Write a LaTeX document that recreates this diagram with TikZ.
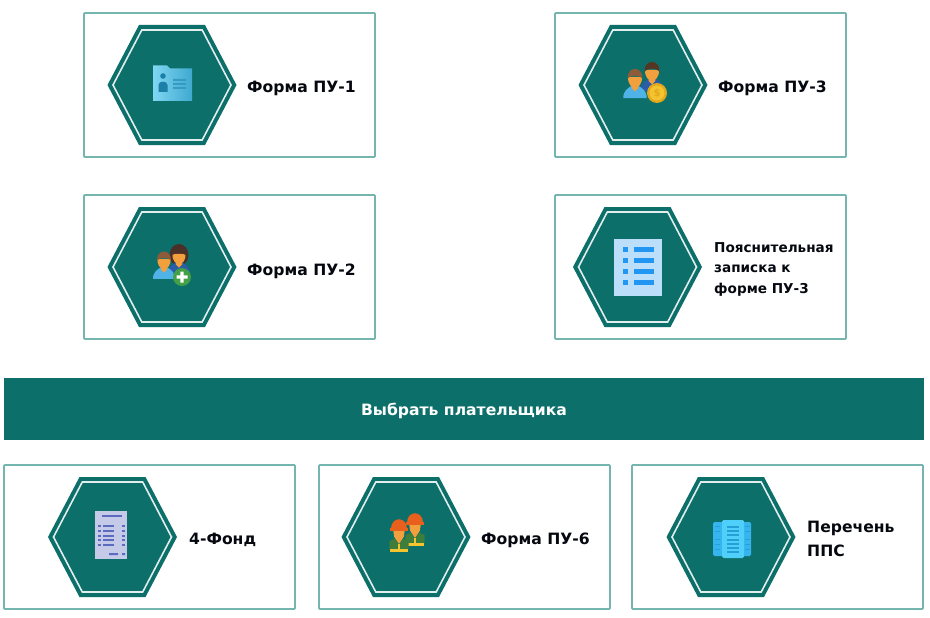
\documentclass[tikz,border=0pt]{standalone}
\usepackage{fontspec}
\setmainfont{DejaVu Sans}
\definecolor{teal1}{HTML}{0C6F69}
\definecolor{cardline}{HTML}{74B5AF}
\definecolor{txt}{HTML}{05080F}
\definecolor{skin}{HTML}{F2A03D}
\definecolor{hairb}{HTML}{8D5A3A}
\definecolor{haird}{HTML}{4A3028}
\definecolor{bodyl}{HTML}{4FB3E8}
\definecolor{bodyd}{HTML}{2A5CA8}
\definecolor{coin}{HTML}{F4C430}
\definecolor{coind}{HTML}{E3A81C}
\definecolor{plus}{HTML}{43A047}
\definecolor{helmet}{HTML}{E8601C}
\definecolor{vest}{HTML}{3F7D3A}
\definecolor{vesty}{HTML}{F4C430}
\definecolor{folderA}{HTML}{7FD6F2}
\definecolor{folderB}{HTML}{3FA9CF}
\definecolor{folderD}{HTML}{1B7FA8}
\definecolor{listbg}{HTML}{BBDEFB}
\definecolor{listfg}{HTML}{2196F3}
\definecolor{recbg}{HTML}{C5CAE9}
\definecolor{recfg}{HTML}{5C6BC0}
\definecolor{srvA}{HTML}{35B4EE}
\definecolor{srvB}{HTML}{4FD0FB}
\definecolor{srvC}{HTML}{1C93CC}
\tikzset{
  cardbox/.style={draw=cardline,line width=1.7pt,fill=white,rounded corners=0.8pt,outer sep=0pt},
  lbl/.style={anchor=west,inner sep=0pt,align=left,text=txt,font=\fontsize{15.6}{24}\bfseries\selectfont},
  lblsmall/.style={lbl,font=\fontsize{13.6}{20.5}\bfseries\selectfont},
  barbox/.style={fill=teal1,draw=none,inner sep=0pt,outer sep=0pt,minimum width=920pt,minimum height=62pt},
  barlabel/.style={inner sep=0pt,text=white,font=\fontsize{15.6}{18}\bfseries\selectfont},
}
\newcommand{\hexcard}[4]{%
  \node[cardbox,minimum width=291pt,minimum height=144pt,inner sep=0pt,anchor=north west] (#1) at (#2,#3) {};
  \begin{scope}[shift={(#2+#4,#3+72)}]
    \fill[teal1] (-64.5,0)--(-33,-60)--(33,-60)--(64.5,0)--(33,60)--(-33,60)--cycle;
    \draw[white!88!teal1,line width=1.6pt] (-59,0)--(-30.2,-55)--(30.2,-55)--(59,0)--(30.2,55)--(-30.2,55)--cycle;
  \end{scope}}
% x, y (head centre), scale, hair, body
\newcommand{\person}[5]{%
  \begin{scope}[shift={(#1,#2)},scale=#3]
    \fill[#5] (-10.5,18) .. controls (-10.5,11) and (-6,9) .. (-3,7) -- (3,7) .. controls (6,9) and (10.5,11) .. (10.5,18) -- cycle;
    \fill[skin] (-3,3) -- (3,3) -- (3,9) -- (0,12) -- (-3,9) -- cycle;
    \fill[skin] (-6.3,-1) .. controls (-6.3,6) and (-3,8.5) .. (0,8.5) .. controls (3,8.5) and (6.3,6) .. (6.3,-1) -- cycle;
    \fill[#4] (-6.5,0.5) .. controls (-7.5,-11) and (7.5,-11) .. (6.5,0.5) .. controls (5,-3) and (-5,-3) .. (-6.5,0.5) -- cycle;
  \end{scope}}
\newcommand{\worker}[2]{%
  \begin{scope}[shift={(#1,#2)},scale=1.08]
    \fill[skin] (-5.5,1) -- (5.5,1) -- (4.5,8) -- (0,15) -- (-4.5,8) -- cycle;
    \fill[vest] (-9,12) -- (-4,10) -- (0,15) -- (4,10) -- (9,12) -- (9,19.5) -- (-9,19.5) -- cycle;
    \fill[vesty] (-8.5,19.5) rectangle (8.5,22.5);
    \fill[vesty] (-1,15) rectangle (1,19.5);
    \fill[helmet] (-7,1) .. controls (-7,-11) and (7,-11) .. (7,1) -- cycle;
    \fill[helmet] (-8.5,0) rectangle (8.5,2.5);
  \end{scope}}
\begin{document}
\begin{tikzpicture}[x=1pt,y=-1pt]
\useasboundingbox (0,0) rectangle (930,618);
\fill[white] (0,0) rectangle (930,618);

\hexcard{pu1}{84}{13}{88}
\hexcard{pu3}{555}{13}{88}
\hexcard{pu2}{84}{195}{88}
\hexcard{note}{555}{195}{82.5}
\hexcard{fond}{4}{465}{108.5}
\hexcard{pu6}{319}{465}{87}
\hexcard{pps}{632}{465}{99}

\node[barbox,anchor=north west] (bar) at (4,378) {};
\node[barlabel] (barlab) at (464,411) {Выбрать плательщика};

\node[lbl] (tpu1) at (247,88) {Форма ПУ-1};
\node[lbl] (tpu3) at (718,88) {Форма ПУ-3};
\node[lbl] (tpu2) at (247,271) {Форма ПУ-2};
\node[lblsmall] (tnote) at (714,269) {Пояснительная\\записка к\\форме ПУ-3};
\node[lbl] (tfond) at (189,540) {4-Фонд};
\node[lbl] (tpu6) at (481,540) {Форма ПУ-6};
\node[lbl] (tpps) at (807,539) {Перечень\\ППС};

% folder icon
\shade[left color=folderA,right color=folderB] (153,65.5) -- (167,65.5) -- (170,68.5) -- (192,68.5) -- (192,101) -- (153,101) -- cycle;
\fill[folderD] (163,76) circle (2.8);
\fill[folderD] (158.5,92) -- (158.5,85) .. controls (158.5,80.5) and (167.5,80.5) .. (167.5,85) -- (167.5,92) -- cycle;
\fill[folderB!70!folderD] (173,79) rectangle (186,81) (173,83) rectangle (186,85) (173,87) rectangle (186,89);

% payer icon (PU-3)
\person{652}{71}{1.12}{hairb!60!black}{bodyd}
\person{635}{78}{1.12}{hairb}{bodyl}
\fill[coind] (657,93) circle (10);
\fill[coin] (657,93) circle (7.5);
\node[text=coind,inner sep=0pt,font=\fontsize{10}{10}\bfseries\selectfont] (coinmark) at (657,93) {\$};

% add-person icon (PU-2)
\fill[haird] (179,255) ellipse (9.5 and 11);
\person{179}{255}{1.05}{haird}{bodyd}
\person{164}{260}{1.05}{hairb}{bodyl}
\fill[plus] (182,277) circle (9);
\fill[white] (180.3,271.5) rectangle (183.7,282.5) (176.5,275.3) rectangle (187.5,278.7);

% list icon (note)
\fill[listbg] (614,239) rectangle (662,296);
\foreach \yy in {247,258,269,280}{
  \fill[listfg] (623,\yy) rectangle (628,\yy+5);
  \fill[listfg] (634,\yy) rectangle (654,\yy+5);
}

% receipt icon (fond)
\fill[recbg] (95,511) rectangle (127,559);
\fill[recfg] (102,515) rectangle (122,517);
\foreach \yy in {525,530,535,539,544}{
  \fill[recfg] (98,\yy) rectangle (101,\yy+1.8);
  \fill[recfg] (103,\yy) rectangle (114,\yy+1.8);
  \fill[recfg] (122,\yy) rectangle (125,\yy+1.8);
}
\fill[recfg] (109,553) rectangle (118,555) (122,553) rectangle (125,555);

% workers icon (PU-6)
\worker{415}{522}
\worker{399}{528}

% server icon (PPS)
\fill[srvA,rounded corners=1.5pt] (713,522) rectangle (751,556);
\fill[srvB,rounded corners=1.5pt] (722,520) rectangle (744,558);
\foreach \yy in {526,530,534,539,543,547,551}{\fill[srvC!80!srvB] (727,\yy) rectangle (739,\yy+1.5);}
\foreach \yy in {526,531,539,544,549}{
  \fill[srvC!60!srvA] (715,\yy) rectangle (720,\yy+1.3);
  \fill[srvC!60!srvA] (745,\yy) rectangle (750,\yy+1.3);
}
\end{tikzpicture}
\end{document}
